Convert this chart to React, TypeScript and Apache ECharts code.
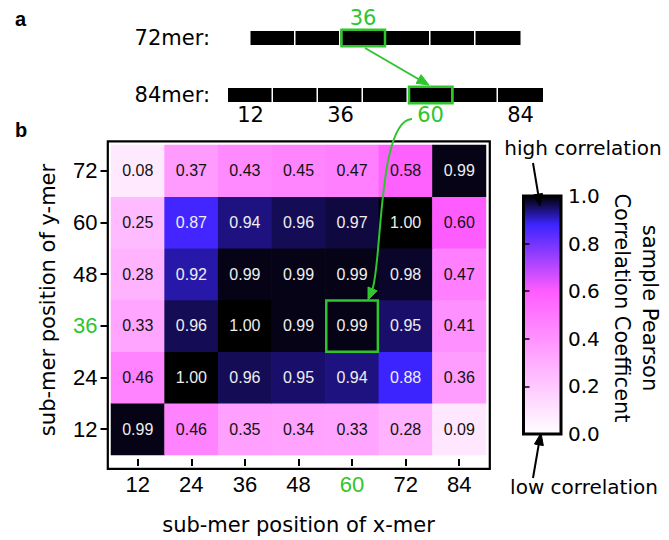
import React, { useEffect, useRef } from 'react';
import * as echarts from 'echarts';

// ---------- heatmap data ----------
const X_POSITIONS = ['12', '24', '36', '48', '60', '72', '84'];
const Y_POSITIONS = ['12', '24', '36', '48', '60', '72'];
const ROW_Y12 = [0.99, 0.46, 0.35, 0.34, 0.33, 0.28, 0.09];
const ROW_Y24 = [0.46, 1.0, 0.96, 0.95, 0.94, 0.88, 0.36];
const ROW_Y36 = [0.33, 0.96, 1.0, 0.99, 0.99, 0.95, 0.41];
const ROW_Y48 = [0.28, 0.92, 0.99, 0.99, 0.99, 0.98, 0.47];
const ROW_Y60 = [0.25, 0.87, 0.94, 0.96, 0.97, 1.0, 0.6];
const ROW_Y72 = [0.08, 0.37, 0.43, 0.45, 0.47, 0.58, 0.99];
const ROWS = [ROW_Y12, ROW_Y24, ROW_Y36, ROW_Y48, ROW_Y60, ROW_Y72];
const HIGHLIGHT_X = '60';
const HIGHLIGHT_Y = '36';

// ---------- schematic (panel a) ----------
const MER_NAMES = ['72mer:', '84mer:'];
const MER_LENGTHS = [72, 84];
const SUBMER_LEN = 12;
const MER_HIGHLIGHT = [36, 60];
const MER_LABELS_ABOVE = [[36], []];
const MER_LABELS_BELOW = [[], [12, 36, 60, 84]];

// ---------- colour scale ----------
const COLOR_STOPS: [number, string][] = [
  [0, '#ffffff'],
  [0.6, '#ff5cff'],
  [0.88, '#3c24ff'],
  [1, '#000000'],
];
const GREEN = '#2ec52e';

function hexToRgb(h: string) {
  const n = parseInt(h.slice(1), 16);
  return [(n >> 16) & 255, (n >> 8) & 255, n & 255];
}
function colorAt(v: number) {
  for (let i = 0; i < COLOR_STOPS.length - 1; i++) {
    const [a, ca] = COLOR_STOPS[i];
    const [b, cb] = COLOR_STOPS[i + 1];
    if (v <= b) {
      const t = (v - a) / (b - a);
      const A = hexToRgb(ca);
      const B = hexToRgb(cb);
      const c = A.map((x, k) => Math.round(x + (B[k] - x) * t));
      return `rgb(${c[0]},${c[1]},${c[2]})`;
    }
  }
  return COLOR_STOPS[COLOR_STOPS.length - 1][1];
}

const DEJAVU = 'DejaVu Sans';
const ARIAL = 'Liberation Sans';

export default function App() {
  const ref = useRef<HTMLDivElement>(null);

  useEffect(() => {
    if (!ref.current) return;
    const chart = echarts.init(ref.current, null, { renderer: 'svg' });

    const vmColors: string[] = [];
    for (let i = 0; i <= 100; i++) vmColors.push(colorAt(i / 100));

    const heatData: any[] = [];
    ROWS.forEach((row, yi) =>
      row.forEach((v, xi) =>
        heatData.push({
          value: [xi, yi, v],
          label: { color: v > 0.8 ? '#eeeeee' : '#111111' },
        })
      )
    );

    const merData: any[] = [];
    MER_LENGTHS.forEach((len, mi) => {
      const off = (84 - len) / 2;
      const n = len / SUBMER_LEN;
      for (let k = 0; k < n; k++) {
        const endPos = (k + 1) * SUBMER_LEN;
        const above = MER_LABELS_ABOVE[mi].indexOf(endPos) >= 0;
        const below = MER_LABELS_BELOW[mi].indexOf(endPos) >= 0;
        merData.push([
          off + k * SUBMER_LEN,
          off + (k + 1) * SUBMER_LEN,
          mi,
          MER_HIGHLIGHT[mi] === endPos ? 1 : 0,
          endPos,
          above ? 1 : below ? 2 : 0,
          k === n - 1 ? 1 : 0,
        ]);
      }
    });

    const gradStops = COLOR_STOPS.map(([o, c]) => ({ offset: 1 - o, color: c })).reverse();

    const arrowHead = (tip: number[], from: number[], len: number, hw: number, color: string) => {
      const dx = tip[0] - from[0];
      const dy = tip[1] - from[1];
      const d = Math.hypot(dx, dy);
      const ux = dx / d;
      const uy = dy / d;
      const bx = tip[0] - ux * len;
      const by = tip[1] - uy * len;
      return {
        type: 'polygon',
        shape: {
          points: [
            tip,
            [bx - uy * hw, by + ux * hw],
            [bx + uy * hw, by - ux * hw],
          ],
        },
        style: { fill: color, stroke: color, lineWidth: 1 },
        z: 100,
      };
    };

    const option: any = {
      animation: false,
      backgroundColor: '#ffffff',
      grid: [
        { left: 228, width: 315, top: 9.5, height: 114 },
        { left: 111, top: 145, width: 375, height: 320 },
        {
          left: 523.5,
          top: 196,
          width: 37.5,
          height: 238,
          show: true,
          borderColor: '#000',
          borderWidth: 3,
          backgroundColor: new echarts.graphic.LinearGradient(0, 0, 0, 1, gradStops),
        },
      ],
      xAxis: [
        { gridIndex: 0, type: 'value', min: 0, max: 84, show: false },
        {
          gridIndex: 1,
          type: 'category',
          data: X_POSITIONS,
          offset: 4,
          axisLine: { show: false },
          axisTick: { show: true, interval: 0, alignWithLabel: true, length: 7, lineStyle: { color: '#000', width: 2 } },
          axisLabel: {
            interval: 0,
            fontSize: 22,
            fontFamily: ARIAL,
            color: '#000',
            margin: 14,
            formatter: (v: string) => (v === HIGHLIGHT_X ? `{g|${v}}` : v),
            rich: { g: { color: GREEN, fontSize: 22, fontFamily: ARIAL } },
          },
          splitLine: { show: false },
          name: 'sub-mer position of x-mer',
          nameLocation: 'middle',
          nameGap: 55,
          nameTextStyle: { fontSize: 21, fontFamily: DEJAVU, color: '#000' },
        },
        { gridIndex: 2, type: 'value', min: 0, max: 1, show: false },
      ],
      yAxis: [
        {
          gridIndex: 0,
          type: 'category',
          data: MER_NAMES,
          inverse: true,
          axisLine: { show: false },
          axisTick: { show: false },
          axisLabel: { fontSize: 21, fontFamily: DEJAVU, color: '#000', margin: 18 },
        },
        {
          gridIndex: 1,
          type: 'category',
          data: Y_POSITIONS,
          offset: 3.5,
          axisLine: { show: false },
          axisTick: { show: true, interval: 0, alignWithLabel: true, length: 7, lineStyle: { color: '#000', width: 2 } },
          axisLabel: {
            interval: 0,
            fontSize: 22,
            fontFamily: ARIAL,
            color: '#000',
            margin: 10,
            formatter: (v: string) => (v === HIGHLIGHT_Y ? `{g|${v}}` : v),
            rich: { g: { color: GREEN, fontSize: 22, fontFamily: ARIAL } },
          },
          splitLine: { show: false },
          name: 'sub-mer position of y-mer',
          nameLocation: 'middle',
          nameGap: 49,
          nameTextStyle: { fontSize: 21, fontFamily: DEJAVU, color: '#000' },
        },
        {
          gridIndex: 2,
          type: 'value',
          min: 0,
          max: 1,
          interval: 0.2,
          position: 'right',
          axisLine: { show: false },
          axisTick: { show: true, length: 6, lineStyle: { color: '#000', width: 1.5 } },
          axisLabel: {
            fontSize: 20,
            fontFamily: DEJAVU,
            color: '#000',
            margin: 7,
            formatter: (v: number) => v.toFixed(1),
          },
          splitLine: { show: false },
        },
      ],
      visualMap: {
        type: 'continuous',
        show: false,
        min: 0,
        max: 1,
        dimension: 2,
        seriesIndex: 1,
        inRange: { color: vmColors },
      },
      series: [
        {
          type: 'custom',
          xAxisIndex: 0,
          yAxisIndex: 0,
          clip: false,
          encode: { x: [0, 1], y: 2 },
          data: merData,
          renderItem: (params: any, api: any) => {
            const s = api.value(0);
            const e = api.value(1);
            const row = api.value(2);
            const hl = api.value(3);
            const endPos = api.value(4);
            const labPos = api.value(5);
            const last = api.value(6);
            const p0 = api.coord([s, row]);
            const p1 = api.coord([e, row]);
            const w = p1[0] - p0[0];
            const children: any[] = [
              {
                type: 'rect',
                shape: { x: p0[0], y: p0[1] - 7, width: w - (last ? 0 : 1.5), height: 14 },
                style: { fill: '#000' },
              },
            ];
            if (hl) {
              children.push({
                type: 'rect',
                shape: { x: p0[0] + 1, y: p0[1] - 8.3, width: w - 1.5, height: 16.6 },
                style: { fill: 'none', stroke: GREEN, lineWidth: 2.5 },
                z2: 10,
              });
            }
            if (labPos) {
              children.push({
                type: 'text',
                x: (p0[0] + p1[0]) / 2,
                y: p0[1] + (labPos === 1 ? -20 : 20),
                style: {
                  text: String(endPos),
                  fill: hl ? GREEN : '#000',
                  fontSize: 21,
                  fontFamily: DEJAVU,
                  align: 'center',
                  verticalAlign: 'middle',
                },
              });
            }
            return { type: 'group', children };
          },
        },
        {
          type: 'heatmap',
          xAxisIndex: 1,
          yAxisIndex: 1,
          data: heatData,
          label: {
            show: true,
            fontSize: 16,
            fontFamily: ARIAL,
            formatter: (p: any) => p.value[2].toFixed(2),
          },
          emphasis: { disabled: true },
        },
        {
          type: 'custom',
          xAxisIndex: 1,
          yAxisIndex: 1,
          clip: false,
          data: [[X_POSITIONS.indexOf(HIGHLIGHT_X), Y_POSITIONS.indexOf(HIGHLIGHT_Y)]],
          renderItem: (params: any, api: any) => {
            const c = api.coord([api.value(0), api.value(1)]);
            const sz = api.size([1, 1]);
            return {
              type: 'rect',
              shape: { x: c[0] - sz[0] / 2 + 1, y: c[1] - sz[1] / 2 + 0.5, width: sz[0] - 2, height: sz[1] - 0.5 },
              style: { fill: 'none', stroke: GREEN, lineWidth: 2.5 },
              z2: 20,
            };
          },
          z: 5,
        },
        {
          type: 'line',
          xAxisIndex: 2,
          yAxisIndex: 2,
          data: [],
          silent: true,
        },
      ],
      graphic: [
        {
          type: 'rect',
          shape: { x: 107.8, y: 141.3, width: 382, height: 327.5 },
          style: { fill: 'none', stroke: '#000', lineWidth: 2.2 },
          z: 50,
        },
        {
          type: 'text',
          x: 15,
          y: 19,
          style: { text: 'a', fontSize: 20, fontWeight: 'bold', fontFamily: ARIAL, fill: '#000', verticalAlign: 'middle' },
        },
        {
          type: 'text',
          x: 15,
          y: 130,
          style: { text: 'b', fontSize: 20, fontWeight: 'bold', fontFamily: ARIAL, fill: '#000', verticalAlign: 'middle' },
        },
        {
          type: 'text',
          x: 583,
          y: 148,
          style: { text: 'high correlation', fontSize: 20, fontFamily: DEJAVU, fill: '#000', align: 'center', verticalAlign: 'middle' },
        },
        {
          type: 'text',
          x: 584,
          y: 487,
          style: { text: 'low correlation', fontSize: 20, fontFamily: DEJAVU, fill: '#000', align: 'center', verticalAlign: 'middle' },
        },
        {
          type: 'text',
          x: 636,
          y: 308,
          rotation: -Math.PI / 2,
          style: {
            text: 'sample Pearson\nCorrelation Coefficent',
            fontSize: 21,
            lineHeight: 28,
            fontFamily: DEJAVU,
            fill: '#000',
            align: 'center',
            verticalAlign: 'middle',
          },
        },
        // green straight arrow (panel a)
        {
          type: 'line',
          shape: { x1: 365, y1: 48, x2: 420, y2: 80 },
          style: { stroke: GREEN, lineWidth: 2 },
          z: 100,
        },
        arrowHead([429, 85], [365, 48], 12, 5, GREEN),
        // green curved arrow into panel b
        {
          type: 'bezierCurve',
          shape: { x1: 412, y1: 119, cpx1: 378, cpy1: 120, cpx2: 382, cpy2: 262, x2: 372.5, y2: 289 },
          style: { stroke: GREEN, lineWidth: 2, fill: 'none' },
          z: 100,
        },
        arrowHead([368, 300], [373, 288], 12, 5, GREEN),
        // black arrows on colour bar
        {
          type: 'line',
          shape: { x1: 533, y1: 163, x2: 538.5, y2: 196 },
          style: { stroke: '#000', lineWidth: 2 },
          z: 100,
        },
        arrowHead([540, 206], [533, 163], 12, 4.5, '#000'),
        {
          type: 'line',
          shape: { x1: 533, y1: 478, x2: 539, y2: 443 },
          style: { stroke: '#000', lineWidth: 2 },
          z: 100,
        },
        arrowHead([541, 433], [533, 478], 12, 4.5, '#000'),
      ],
    };

    chart.setOption(option);
    return () => chart.dispose();
  }, []);

  return (
    <div
      ref={ref}
      style={{ position: 'fixed', left: 0, top: 0, width: 669, height: 540, background: '#fff' }}
    />
  );
}
